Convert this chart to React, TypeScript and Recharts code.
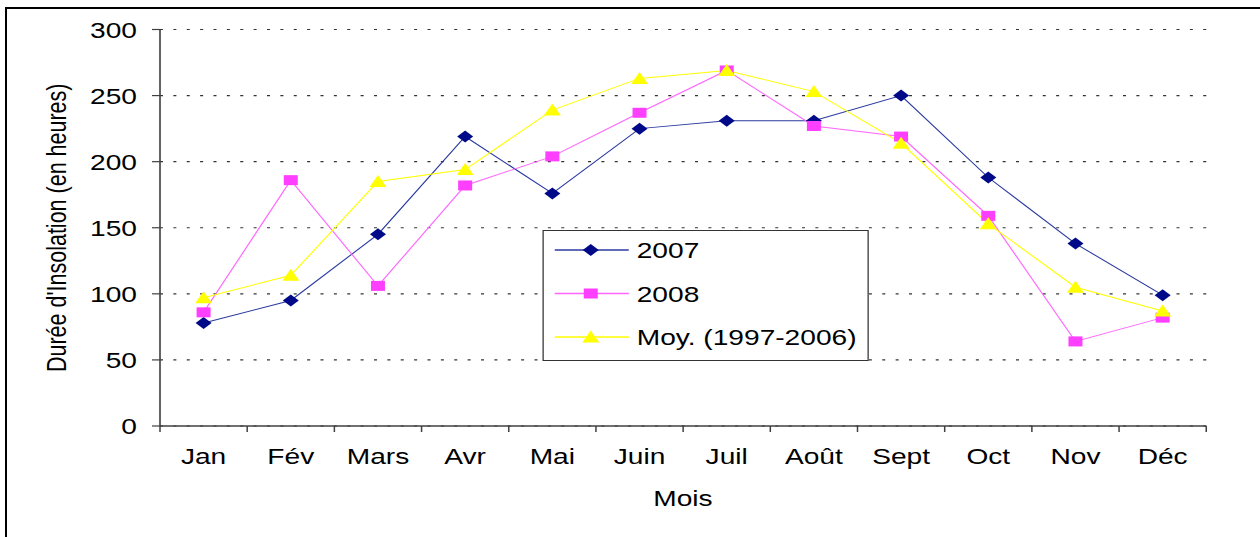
import React from 'react';
import { LineChart, Line, XAxis, YAxis, CartesianGrid, Legend, Customized } from 'recharts';

const months = ['Jan', 'Fév', 'Mars', 'Avr', 'Mai', 'Juin', 'Juil', 'Août', 'Sept', 'Oct', 'Nov', 'Déc'];
const s2007 = [78, 95, 145, 219, 176, 225, 231, 231, 250, 188, 138, 99];
const s2008 = [86, 186, 106, 182, 204, 237, 269, 227, 219, 159, 64, 82];
const sMoy = [97, 114, 185, 194, 239, 263, 269, 253, 214, 153, 105, 87];
const yTicks = [0, 50, 100, 150, 200, 250, 300];
const seriesNames = ['2007', '2008', 'Moy. (1997-2006)'];

const data = months.map((m, i) => ({ x: i + 0.5, month: m, a: s2007[i], b: s2008[i], c: sMoy[i] }));
const xTicks: number[] = [];
for (let i = 0; i <= months.length * 2; i++) xTicks.push(i / 2);

const FONT = '"Liberation Sans", Arial, sans-serif';
const SCALE = 1.25;
const W = 1260 / SCALE;
const H = 537;

const C2007_LINE = '#2B3BA0';
const C2007_MARK = '#000A88';
const C2008_LINE = '#FF66FF';
const C2008_MARK = '#FF3FFF';
const CMOY_LINE = '#FFFF00';
const CMOY_MARK = '#FFFF00';

const Diamond = ({ cx, cy }: any) => (
  <polygon points={`${cx},${cy - 6} ${cx + 6.4},${cy} ${cx},${cy + 6} ${cx - 6.4},${cy}`} fill={C2007_MARK} />
);
const Square = ({ cx, cy }: any) => <rect x={cx - 5.6} y={cy - 5} width={11.2} height={10} fill={C2008_MARK} />;
const Triangle = ({ cx, cy }: any) => (
  <polygon points={`${cx},${cy - 6.5} ${cx + 6.8},${cy + 5.5} ${cx - 6.8},${cy + 5.5}`} fill={CMOY_MARK} />
);

const XTick = (props: any) => {
  const { x, y, payload } = props;
  const v = payload.value as number;
  if (Number.isInteger(v)) {
    return <line x1={x} y1={y} x2={x} y2={y + 6} stroke="#404040" strokeWidth={1.2} />;
  }
  return (
    <text x={x} y={y + 38} textAnchor="middle" fontSize={22.5} fontFamily={FONT} fill="#000">
      {months[Math.floor(v)]}
    </text>
  );
};

const YTick = (props: any) => {
  const { x, y, payload } = props;
  return (
    <text x={x} y={y} dy="0.36em" textAnchor="end" fontSize={22.5} fontFamily={FONT} fill="#000">
      {payload.value}
    </text>
  );
};

const Titles = () => (
  <g>
    <text
      transform={`translate(44.8, 227.8) rotate(-90)`}
      textAnchor="middle"
      dy="0.36em"
      fontSize={21.5}
      fontFamily={FONT}
      fill="#000"
    >
      Durée d'Insolation (en heures)
    </text>
    <text x={546.4} y={506} textAnchor="middle" fontSize={22.5} fontFamily={FONT} fill="#000">
      Mois
    </text>
  </g>
);

const markers = [Diamond, Square, Triangle];
const lineColors = [C2007_LINE, C2008_LINE, CMOY_LINE];
const rowY = [19, 62.5, 106];

const LegendBox = () => (
  <div
    style={{
      width: 261.6,
      height: 131,
      boxSizing: 'border-box',
      border: '1.5px solid #333',
      background: '#fff',
      position: 'relative',
    }}
  >
    <svg width={259} height={128} style={{ position: 'absolute', left: 0, top: 0 }}>
      {seriesNames.map((n, i) => {
        const M = markers[i];
        const y = rowY[i];
        return (
          <g key={n}>
            <line x1={8.8} y1={y} x2={68} y2={y} stroke={lineColors[i]} strokeWidth={1.5} />
            <M cx={37.6} cy={y} />
            <text x={74.4} y={y} dy="0.36em" fontSize={22.5} fontFamily={FONT} fill="#000">
              {n}
            </text>
          </g>
        );
      })}
    </svg>
  </div>
);

export default function App() {
  return (
    <div
      style={{
        position: 'fixed',
        left: 0,
        top: 0,
        width: 1260,
        height: 537,
        overflow: 'hidden',
        background: '#fff',
      }}
    >
      <div
        style={{
          position: 'absolute',
          left: 5,
          top: 7,
          width: 1400,
          height: 700,
          border: '2px solid #000',
          boxSizing: 'border-box',
        }}
      />
      <div style={{ position: 'absolute', left: 0, top: 0, transform: `scaleX(${SCALE})`, transformOrigin: '0 0' }}>
        <LineChart width={W} height={H} data={data} margin={{ top: 29.5, right: 43, bottom: 0, left: 0 }}>
          <CartesianGrid vertical={false} stroke="#333" strokeWidth={1.1} strokeDasharray="2.4 8.3" />
          <XAxis
            dataKey="x"
            type="number"
            domain={[0, 12]}
            ticks={xTicks}
            interval={0}
            tick={<XTick />}
            tickLine={false}
            tickSize={0}
            tickMargin={0}
            height={111}
            axisLine={{ stroke: '#404040', strokeWidth: 1.5 }}
          />
          <YAxis
            type="number"
            domain={[0, 300]}
            ticks={yTicks}
            interval={0}
            width={128}
            tick={<YTick />}
            tickSize={6.4}
            tickMargin={12}
            tickLine={{ stroke: '#404040', strokeWidth: 1.2 }}
            axisLine={{ stroke: '#404040', strokeWidth: 1.3 }}
          />
          <Legend
            layout="vertical"
            align="center"
            verticalAlign="middle"
            wrapperStyle={{ left: 433.6, top: 230, width: 261.6, height: 131 }}
            content={() => <LegendBox />}
          />
          <Line
            dataKey="a"
            name={seriesNames[0]}
            stroke={C2007_LINE}
            strokeWidth={1}
            isAnimationActive={false}
            activeDot={false}
            dot={(p: any) => <Diamond key={`a${p.index}`} cx={p.cx} cy={p.cy} />}
          />
          <Line
            dataKey="b"
            name={seriesNames[1]}
            stroke={C2008_LINE}
            strokeWidth={1}
            isAnimationActive={false}
            activeDot={false}
            dot={(p: any) => <Square key={`b${p.index}`} cx={p.cx} cy={p.cy} />}
          />
          <Line
            dataKey="c"
            name={seriesNames[2]}
            stroke={CMOY_LINE}
            strokeWidth={1}
            isAnimationActive={false}
            activeDot={false}
            dot={(p: any) => <Triangle key={`c${p.index}`} cx={p.cx} cy={p.cy} />}
          />
          <Customized component={Titles} />
        </LineChart>
      </div>
    </div>
  );
}
